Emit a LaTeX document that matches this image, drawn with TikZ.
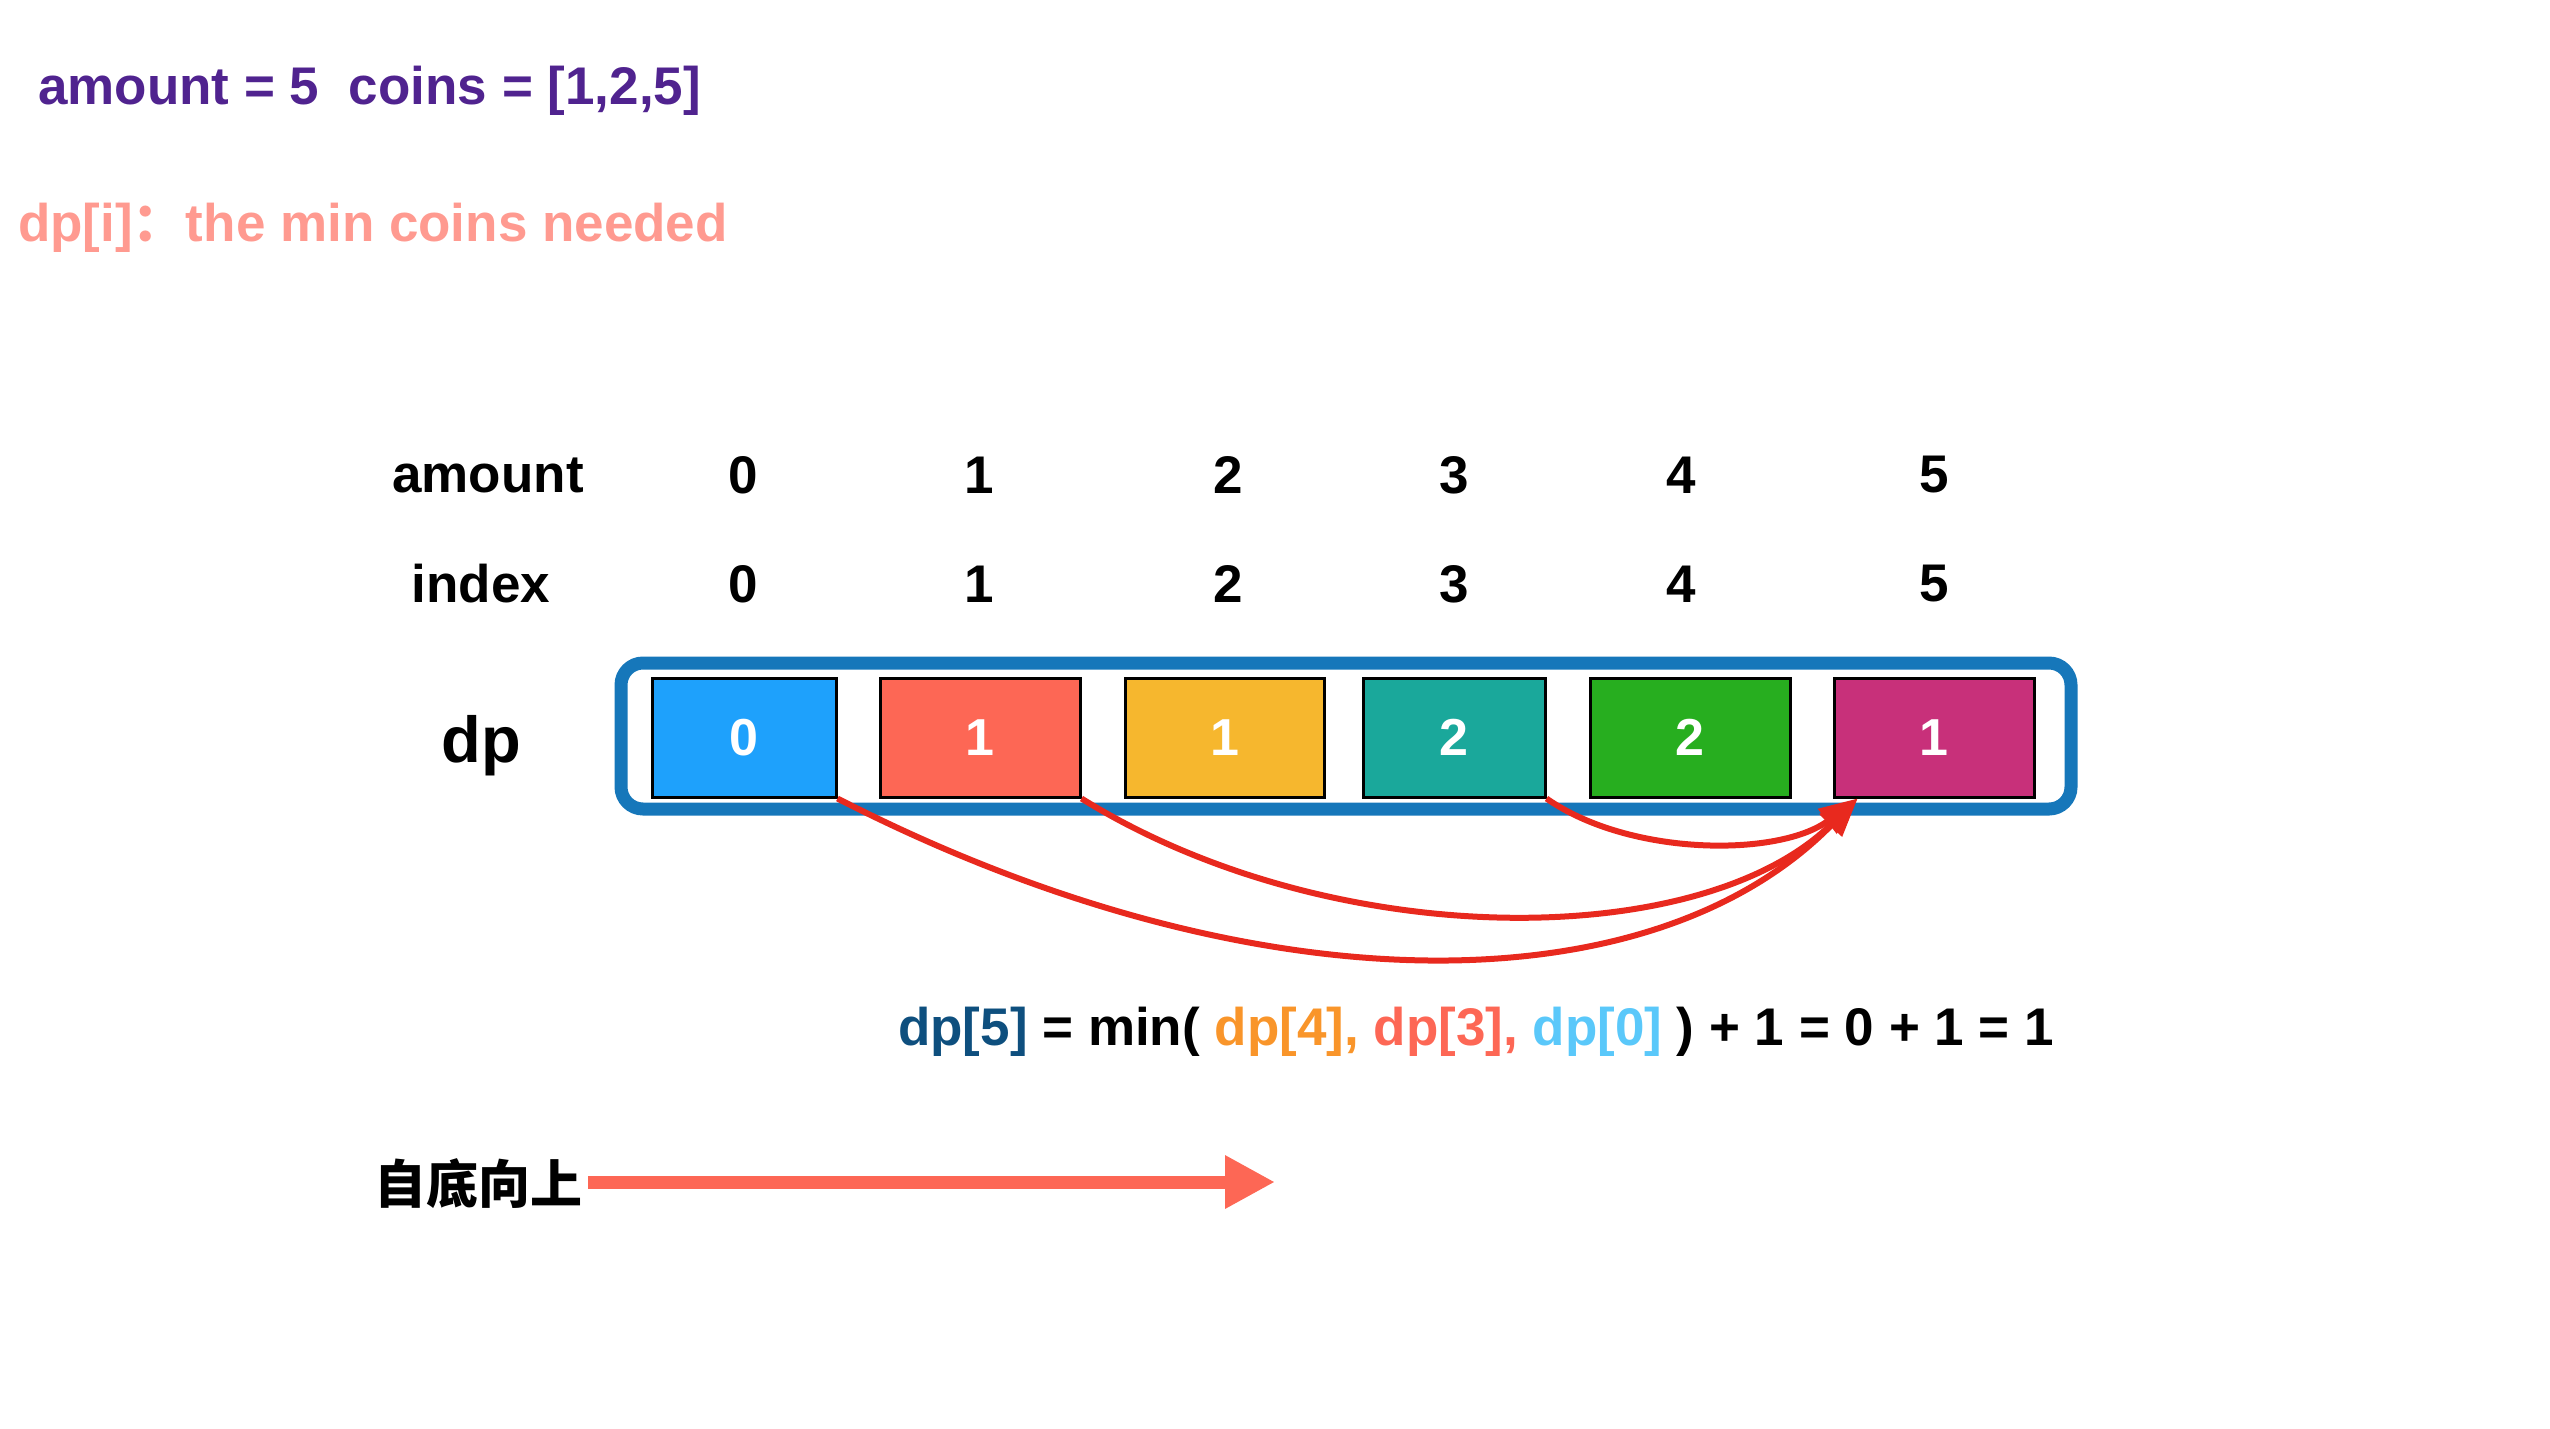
\documentclass[tikz,border=0pt]{standalone}
\usepackage{fontspec}
\setmainfont{Liberation Sans}
\newfontfamily\cjk{Noto Sans CJK SC}
\usetikzlibrary{arrows.meta}
\definecolor{cPurple}{HTML}{50238F}
\definecolor{cSalmon}{HTML}{FF9A90}
\definecolor{cFrame}{HTML}{1677BA}
\definecolor{cB0}{HTML}{1EA1FC}
\definecolor{cB1}{HTML}{FD6755}
\definecolor{cB2}{HTML}{F6B72E}
\definecolor{cB3}{HTML}{1AA89B}
\definecolor{cB4}{HTML}{27AE1F}
\definecolor{cB5}{HTML}{C8307A}
\definecolor{cRed}{HTML}{E8291E}
\definecolor{cDark}{HTML}{0E4F7E}
\definecolor{cOrange}{HTML}{F9952A}
\definecolor{cLight}{HTML}{5AC8FA}
\tikzset{
  txt/.style={inner sep=0pt, font=\bfseries\fontsize{53}{60}\selectfont},
  cell/.style={draw=black, line width=3pt, minimum height=119pt, inner sep=0pt,
    text=white, font=\bfseries\fontsize{52}{58}\selectfont},
  link/.style={draw=cRed, line width=6pt, -{Triangle[length=38pt,width=30pt]}},
}
\begin{document}
\begin{tikzpicture}[x=1pt,y=-1pt]
\useasboundingbox (0,0) rectangle (2550,1428);
% header texts
\node[txt, text=cPurple, anchor=west] (title) at (38,91) {amount = 5\ \ coins = [1,2,5]};
\node[txt, text=cSalmon, anchor=west] (def) at (18,228) {dp[i]{\cjk\bfseries ：}the min coins needed};
% frame
\node[draw=cFrame, line width=13pt, rounded corners=22pt, minimum width=1450pt, minimum height=146pt, inner sep=0pt] (frame) at (1346,736) {};
% cells
\node[cell, fill=cB0, minimum width=184pt] (b0) at (744,737.5) {0};
\node[cell, fill=cB1, minimum width=200pt] (b1) at (980,737.5) {1};
\node[cell, fill=cB2, minimum width=199pt] (b2) at (1224.5,737.5) {1};
\node[cell, fill=cB3, minimum width=182pt] (b3) at (1454,737.5) {2};
\node[cell, fill=cB4, minimum width=200pt] (b4) at (1690,737.5) {2};
\node[cell, fill=cB5, minimum width=200pt] (b5) at (1934,737.5) {1};
% row labels
\node[txt] (lamount) at (488,475) {amount};
\node[txt] (lindex) at (481,584) {index};
\node[txt, font=\bfseries\fontsize{65}{72}\selectfont] (ldp) at (481,746) {dp};
% numbers
\foreach \i/\x in {0/743,1/979,2/1228,3/1454,4/1681,5/1934}{
  \node[txt] (a\i) at (\x,475) {\i};
  \node[txt] (n\i) at (\x,584) {\i};
}
% red links
\coordinate (tip) at ([xshift=25pt]b5.south west);
\draw[link] (b0.south east) .. controls (1250,1010) and (1650,1010) .. (tip);
\draw[link] (b1.south east) .. controls (1330,953) and (1700,953) .. (tip);
\draw[link] (b3.south east) .. controls (1630,857) and (1780,857) .. (tip);
% formula
\node[txt, anchor=west] (formula) at (898,1032) {\textcolor{cDark}{dp[5]} = min( \textcolor{cOrange}{dp[4],} \textcolor{cB1}{dp[3],} \textcolor{cLight}{dp[0]} ) + 1 = 0 + 1 = 1};
% bottom-up arrow
\node[inner sep=0pt, anchor=west, font=\cjk\bfseries\fontsize{52}{58}\selectfont] (zd) at (374,1184) {自底向上};
\coordinate (zend) at (1275,1182);
\draw[draw=cB1, line width=13pt, -{Triangle[length=50pt,width=50pt]}] ([xshift=6pt]zd.east |- zend) -- (zend);
\end{tikzpicture}
\end{document}
